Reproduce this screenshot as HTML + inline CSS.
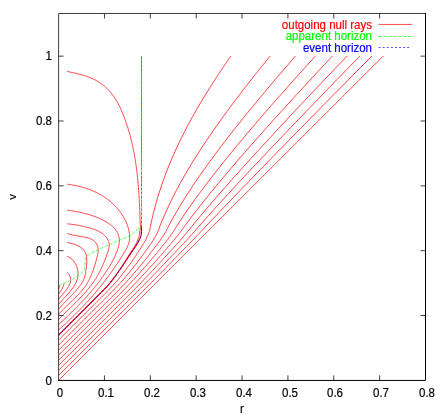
<!DOCTYPE html><html><head><meta charset="utf-8"><title>outgoing null rays</title><style>
html,body{margin:0;padding:0;background:#fff}
#c{position:relative;width:445px;height:415px;background:#fff;overflow:hidden;font-family:"Liberation Sans",sans-serif;font-size:11.5px;color:#000}
.t{position:absolute;white-space:nowrap;line-height:12px;height:12px;will-change:transform;-webkit-text-stroke:0.18px currentColor}
.xl{width:40px;text-align:center;transform:scaleY(1.06)}
.yl{width:40px;text-align:right;transform:scaleY(1.06)}
.lg{width:120px;text-align:right;transform:scaleY(1.07);transform-origin:100% 80%}
</style></head><body><div id="c">
<svg width="445" height="415" viewBox="0 0 445 415" style="position:absolute;left:0;top:0">
<g fill="none" stroke="#ff0000" stroke-width="0.72">
<path d="M383.30 56.00C382.30 57.00 381.30 58.00 380.30 59.00C379.29 60.00 378.29 61.00 377.29 62.00C376.29 63.00 375.29 64.00 374.29 65.00C373.29 66.00 372.28 67.00 371.28 68.00C370.28 69.00 369.28 70.00 368.28 71.00C367.28 72.00 366.28 73.00 365.28 74.00C364.27 75.00 363.27 76.00 362.27 77.00C361.27 78.00 360.27 79.00 359.27 80.00C358.27 81.00 357.26 82.00 356.26 83.00C355.26 84.00 354.26 85.00 353.26 86.00C352.26 87.00 351.26 88.00 350.25 89.00C349.25 90.00 348.25 91.00 347.25 92.00C346.25 93.00 345.25 94.00 344.25 95.00C343.25 96.00 342.24 97.00 341.24 98.00C340.24 99.00 339.24 100.00 338.24 101.00C337.24 102.00 336.24 103.00 335.23 104.00C334.23 105.00 333.23 106.00 332.23 107.00C331.23 108.00 330.23 109.00 329.23 110.00C328.23 111.00 327.22 112.00 326.22 113.00C325.22 114.00 324.22 115.00 323.22 116.00C322.22 117.00 321.22 118.00 320.22 119.00C319.21 120.00 318.21 121.00 317.21 122.00C316.21 123.00 315.21 124.00 314.21 125.00C313.21 126.00 312.20 127.00 311.20 128.00C310.20 129.00 309.20 130.00 308.20 131.00C307.20 132.00 306.20 133.00 305.20 134.00C304.19 135.00 303.19 136.00 302.19 137.00C301.19 138.00 300.19 139.00 299.19 140.00C298.19 141.00 297.19 142.00 296.18 143.00C295.18 144.00 294.18 145.00 293.18 146.00C292.18 147.00 291.18 148.00 290.18 149.00C289.18 150.00 288.17 151.00 287.17 152.00C286.17 153.00 285.17 154.00 284.17 155.00C283.17 156.00 282.17 157.00 281.17 158.00C280.17 159.00 279.16 160.00 278.16 161.00C277.16 162.00 276.16 163.00 275.16 164.00C274.16 165.00 273.16 166.00 272.16 167.00C271.15 168.00 270.15 169.00 269.15 170.00C268.15 171.00 267.15 172.00 266.15 173.00C265.15 174.00 264.15 175.00 263.15 176.00C262.14 177.00 261.14 178.00 260.14 179.00C259.14 180.00 258.14 181.00 257.14 182.00C256.14 183.00 255.14 184.00 254.14 185.00C253.13 186.00 252.13 187.00 251.13 188.00C250.13 189.00 249.13 190.00 248.13 191.00C247.13 192.00 246.13 193.00 245.13 194.00C244.12 195.00 243.12 196.00 242.12 197.00C241.12 198.00 240.12 199.00 239.12 200.00C238.12 201.00 237.12 202.00 236.12 203.00C235.11 204.00 234.11 205.00 233.11 206.00C232.11 207.00 231.11 208.00 230.11 209.00C229.11 210.00 228.11 211.00 227.11 212.00C226.11 213.00 225.11 214.00 224.10 215.00C223.10 216.00 222.10 217.00 221.10 218.00C220.10 219.00 219.10 220.00 218.10 221.00C217.10 222.00 216.05 223.05 215.10 224.00C214.22 224.87 213.38 225.71 212.59 226.50C211.89 227.20 211.32 227.77 210.58 228.50C209.68 229.40 208.57 230.50 207.57 231.50C206.56 232.50 205.56 233.50 204.56 234.50C203.55 235.50 202.55 236.50 201.54 237.50C200.54 238.50 199.54 239.50 198.53 240.50C197.53 241.50 196.53 242.50 195.53 243.50C194.52 244.50 193.52 245.50 192.52 246.50C191.52 247.50 190.51 248.50 189.51 249.50C188.51 250.50 187.51 251.50 186.50 252.50C185.50 253.50 184.50 254.50 183.50 255.50C182.50 256.50 181.49 257.50 180.49 258.50C179.49 259.50 178.49 260.50 177.49 261.50C176.48 262.50 175.48 263.50 174.48 264.50C173.48 265.50 172.48 266.50 171.47 267.50C170.47 268.50 169.47 269.50 168.47 270.50C167.47 271.50 166.47 272.50 165.47 273.50C164.46 274.50 163.46 275.50 162.46 276.50C161.46 277.50 160.46 278.50 159.46 279.50C158.46 280.50 157.45 281.50 156.45 282.50C155.45 283.50 154.45 284.50 153.45 285.50C152.45 286.50 151.45 287.50 150.45 288.50C149.45 289.50 148.45 290.50 147.45 291.50C146.45 292.50 145.45 293.50 144.45 294.50C143.45 295.50 142.40 296.55 141.45 297.50C140.58 298.37 140.37 298.58 138.95 300.00C130.92 308.03 85.38 353.57 58.60 380.35"/>
<path d="M371.90 56.00C370.91 57.00 369.92 58.00 368.93 59.00C367.95 60.00 366.96 61.00 365.97 62.00C364.98 63.00 363.99 64.00 363.00 65.00C362.02 66.00 361.03 67.00 360.04 68.00C359.05 69.00 358.06 70.00 357.08 71.00C356.09 72.00 355.10 73.00 354.11 74.00C353.13 75.00 352.14 76.00 351.15 77.00C350.16 78.00 349.18 79.00 348.19 80.00C347.20 81.00 346.22 82.00 345.23 83.00C344.24 84.00 343.26 85.00 342.27 86.00C341.29 87.00 340.30 88.00 339.31 89.00C338.33 90.00 337.34 91.00 336.36 92.00C335.37 93.00 334.39 94.00 333.40 95.00C332.42 96.00 331.43 97.00 330.45 98.00C329.46 99.00 328.48 100.00 327.49 101.00C326.51 102.00 325.52 103.00 324.54 104.00C323.56 105.00 322.57 106.00 321.59 107.00C320.60 108.00 319.62 109.00 318.64 110.00C317.65 111.00 316.67 112.00 315.69 113.00C314.70 114.00 313.72 115.00 312.74 116.00C311.76 117.00 310.78 118.00 309.79 119.00C308.81 120.00 307.83 121.00 306.85 122.00C305.87 123.00 304.88 124.00 303.90 125.00C302.92 126.00 301.94 127.00 300.96 128.00C299.98 129.00 299.00 130.00 298.02 131.00C297.04 132.00 296.06 133.00 295.08 134.00C294.10 135.00 293.12 136.00 292.14 137.00C291.16 138.00 290.18 139.00 289.21 140.00C288.23 141.00 287.25 142.00 286.27 143.00C285.29 144.00 284.32 145.00 283.34 146.00C282.36 147.00 281.38 148.00 280.41 149.00C279.43 150.00 278.46 151.00 277.48 152.00C276.50 153.00 275.53 154.00 274.55 155.00C273.58 156.00 272.60 157.00 271.63 158.00C270.65 159.00 269.68 160.00 268.70 161.00C267.73 162.00 266.76 163.00 265.78 164.00C264.81 165.00 263.84 166.00 262.87 167.00C261.89 168.00 260.92 169.00 259.95 170.00C258.98 171.00 258.01 172.00 257.04 173.00C256.07 174.00 255.10 175.00 254.13 176.00C253.16 177.00 252.19 178.00 251.22 179.00C250.25 180.00 249.28 181.00 248.31 182.00C247.35 183.00 246.38 184.00 245.41 185.00C244.45 186.00 243.48 187.00 242.51 188.00C241.55 189.00 240.58 190.00 239.62 191.00C238.66 192.00 237.69 193.00 236.73 194.00C235.76 195.00 234.80 196.00 233.84 197.00C232.88 198.00 231.92 199.00 230.96 200.00C229.99 201.00 229.03 202.00 228.08 203.00C227.12 204.00 226.16 205.00 225.20 206.00C224.24 207.00 223.28 208.00 222.33 209.00C221.37 210.00 220.42 211.00 219.46 212.00C218.51 213.00 217.55 214.00 216.60 215.00C215.65 216.00 214.69 217.00 213.74 218.00C212.79 219.00 211.84 220.00 210.89 221.00C209.94 222.00 208.95 223.05 208.04 224.00C207.22 224.87 206.42 225.71 205.68 226.50C205.02 227.20 204.50 227.77 203.82 228.50C202.97 229.40 201.94 230.50 200.99 231.50C200.05 232.50 199.09 233.50 198.14 234.50C197.19 235.50 196.23 236.50 195.27 237.50C194.32 238.50 193.36 239.50 192.40 240.50C191.44 241.50 190.46 242.50 189.49 243.50C188.52 244.50 187.55 245.50 186.58 246.50C185.61 247.50 184.64 248.50 183.67 249.50C182.70 250.50 181.73 251.50 180.76 252.50C179.79 253.50 178.82 254.50 177.84 255.50C176.87 256.50 175.89 257.50 174.92 258.50C173.94 259.50 172.97 260.50 171.99 261.50C171.01 262.50 170.04 263.50 169.06 264.50C168.08 265.50 167.10 266.50 166.12 267.50C165.14 268.50 164.16 269.50 163.18 270.50C162.20 271.50 161.22 272.50 160.23 273.50C159.25 274.50 158.27 275.50 157.29 276.50C156.30 277.50 155.32 278.50 154.34 279.50C153.35 280.50 152.36 281.50 151.37 282.50C150.38 283.50 149.39 284.50 148.39 285.50C147.40 286.50 146.40 287.50 145.40 288.50C144.41 289.50 143.41 290.50 142.42 291.50C141.42 292.50 140.42 293.50 139.42 294.50C138.42 295.50 137.37 296.55 136.42 297.50C135.55 298.37 135.33 298.59 133.92 300.00C126.18 307.74 83.71 350.21 58.60 375.32"/>
<path d="M359.90 56.00C358.93 57.00 357.95 58.00 356.98 59.00C356.00 60.00 355.03 61.00 354.05 62.00C353.08 63.00 352.11 64.00 351.13 65.00C350.16 66.00 349.19 67.00 348.22 68.00C347.24 69.00 346.27 70.00 345.30 71.00C344.33 72.00 343.36 73.00 342.38 74.00C341.41 75.00 340.44 76.00 339.47 77.00C338.50 78.00 337.53 79.00 336.56 80.00C335.59 81.00 334.62 82.00 333.65 83.00C332.68 84.00 331.71 85.00 330.74 86.00C329.77 87.00 328.80 88.00 327.84 89.00C326.87 90.00 325.90 91.00 324.93 92.00C323.96 93.00 323.00 94.00 322.03 95.00C321.06 96.00 320.10 97.00 319.13 98.00C318.17 99.00 317.20 100.00 316.23 101.00C315.27 102.00 314.30 103.00 313.34 104.00C312.37 105.00 311.41 106.00 310.45 107.00C309.48 108.00 308.52 109.00 307.56 110.00C306.59 111.00 305.63 112.00 304.67 113.00C303.71 114.00 302.75 115.00 301.79 116.00C300.82 117.00 299.86 118.00 298.90 119.00C297.94 120.00 296.98 121.00 296.03 122.00C295.07 123.00 294.11 124.00 293.15 125.00C292.19 126.00 291.23 127.00 290.28 128.00C289.32 129.00 288.36 130.00 287.41 131.00C286.45 132.00 285.50 133.00 284.54 134.00C283.59 135.00 282.63 136.00 281.68 137.00C280.72 138.00 279.77 139.00 278.82 140.00C277.87 141.00 276.91 142.00 275.96 143.00C275.01 144.00 274.06 145.00 273.11 146.00C272.16 147.00 271.21 148.00 270.26 149.00C269.31 150.00 268.37 151.00 267.42 152.00C266.47 153.00 265.52 154.00 264.58 155.00C263.63 156.00 262.69 157.00 261.74 158.00C260.80 159.00 259.85 160.00 258.91 161.00C257.97 162.00 257.03 163.00 256.09 164.00C255.14 165.00 254.20 166.00 253.26 167.00C252.33 168.00 251.39 169.00 250.45 170.00C249.51 171.00 248.57 172.00 247.64 173.00C246.70 174.00 245.77 175.00 244.83 176.00C243.90 177.00 242.97 178.00 242.03 179.00C241.10 180.00 240.17 181.00 239.24 182.00C238.31 183.00 237.38 184.00 236.45 185.00C235.53 186.00 234.60 187.00 233.67 188.00C232.75 189.00 231.82 190.00 230.90 191.00C229.98 192.00 229.06 193.00 228.13 194.00C227.21 195.00 226.29 196.00 225.38 197.00C224.46 198.00 223.54 199.00 222.62 200.00C221.71 201.00 220.80 202.00 219.88 203.00C218.97 204.00 218.06 205.00 217.15 206.00C216.24 207.00 215.33 208.00 214.42 209.00C213.52 210.00 212.61 211.00 211.71 212.00C210.81 213.00 209.90 214.00 209.00 215.00C208.10 216.00 207.21 217.00 206.31 218.00C205.41 219.00 204.52 220.00 203.62 221.00C202.73 222.00 201.80 223.05 200.95 224.00C200.18 224.87 199.42 225.71 198.73 226.50C198.12 227.20 197.66 227.77 197.03 228.50C196.25 229.40 195.28 230.50 194.40 231.50C193.51 232.50 192.61 233.50 191.70 234.50C190.80 235.50 189.89 236.50 188.98 237.50C188.08 238.50 187.18 239.50 186.26 240.50C185.33 241.50 184.39 242.50 183.45 243.50C182.51 244.50 181.57 245.50 180.63 246.50C179.69 247.50 178.76 248.50 177.82 249.50C176.88 250.50 175.95 251.50 175.01 252.50C174.07 253.50 173.13 254.50 172.18 255.50C171.24 256.50 170.29 257.50 169.34 258.50C168.39 259.50 167.44 260.50 166.49 261.50C165.54 262.50 164.59 263.50 163.64 264.50C162.68 265.50 161.72 266.50 160.76 267.50C159.80 268.50 158.84 269.50 157.88 270.50C156.92 271.50 155.96 272.50 155.00 273.50C154.04 274.50 153.07 275.50 152.11 276.50C151.15 277.50 150.19 278.50 149.22 279.50C148.25 280.50 147.26 281.50 146.28 282.50C145.30 283.50 144.32 284.50 143.33 285.50C142.34 286.50 141.35 287.50 140.36 288.50C139.36 289.50 138.37 290.50 137.38 291.50C136.38 292.50 135.38 293.50 134.38 294.50C133.38 295.50 132.34 296.55 131.38 297.50C130.51 298.37 130.29 298.60 128.88 300.00C121.45 307.43 82.03 346.86 58.60 370.28"/>
<path d="M347.10 56.00C346.14 57.00 345.18 58.00 344.23 59.00C343.27 60.00 342.31 61.00 341.36 62.00C340.40 63.00 339.44 64.00 338.49 65.00C337.53 66.00 336.58 67.00 335.62 68.00C334.67 69.00 333.71 70.00 332.76 71.00C331.80 72.00 330.85 73.00 329.90 74.00C328.94 75.00 327.99 76.00 327.04 77.00C326.09 78.00 325.14 79.00 324.18 80.00C323.23 81.00 322.28 82.00 321.33 83.00C320.38 84.00 319.43 85.00 318.49 86.00C317.54 87.00 316.59 88.00 315.64 89.00C314.69 90.00 313.75 91.00 312.80 92.00C311.85 93.00 310.91 94.00 309.96 95.00C309.01 96.00 308.07 97.00 307.13 98.00C306.18 99.00 305.24 100.00 304.29 101.00C303.35 102.00 302.41 103.00 301.47 104.00C300.53 105.00 299.58 106.00 298.64 107.00C297.70 108.00 296.76 109.00 295.82 110.00C294.89 111.00 293.95 112.00 293.01 113.00C292.07 114.00 291.14 115.00 290.20 116.00C289.26 117.00 288.33 118.00 287.39 119.00C286.46 120.00 285.52 121.00 284.59 122.00C283.66 123.00 282.73 124.00 281.79 125.00C280.86 126.00 279.93 127.00 279.00 128.00C278.07 129.00 277.14 130.00 276.22 131.00C275.29 132.00 274.36 133.00 273.43 134.00C272.51 135.00 271.58 136.00 270.66 137.00C269.73 138.00 268.81 139.00 267.89 140.00C266.96 141.00 266.04 142.00 265.12 143.00C264.20 144.00 263.28 145.00 262.36 146.00C261.45 147.00 260.53 148.00 259.61 149.00C258.70 150.00 257.78 151.00 256.87 152.00C255.95 153.00 255.04 154.00 254.13 155.00C253.22 156.00 252.30 157.00 251.40 158.00C250.49 159.00 249.58 160.00 248.67 161.00C247.76 162.00 246.86 163.00 245.95 164.00C245.05 165.00 244.15 166.00 243.24 167.00C242.34 168.00 241.44 169.00 240.54 170.00C239.64 171.00 238.75 172.00 237.85 173.00C236.96 174.00 236.06 175.00 235.17 176.00C234.27 177.00 233.38 178.00 232.49 179.00C231.60 180.00 230.71 181.00 229.83 182.00C228.94 183.00 228.06 184.00 227.17 185.00C226.29 186.00 225.41 187.00 224.53 188.00C223.65 189.00 222.77 190.00 221.89 191.00C221.02 192.00 220.15 193.00 219.27 194.00C218.40 195.00 217.53 196.00 216.66 197.00C215.79 198.00 214.93 199.00 214.06 200.00C213.20 201.00 212.34 202.00 211.48 203.00C210.62 204.00 209.76 205.00 208.91 206.00C208.05 207.00 207.20 208.00 206.35 209.00C205.50 210.00 204.65 211.00 203.80 212.00C202.96 213.00 202.12 214.00 201.28 215.00C200.44 216.00 199.60 217.00 198.76 218.00C197.93 219.00 197.10 220.00 196.27 221.00C195.44 222.00 194.57 223.04 193.79 224.00C193.07 224.87 192.37 225.71 191.74 226.50C191.18 227.20 190.76 227.77 190.19 228.50C189.47 229.40 188.58 230.50 187.76 231.50C186.93 232.50 186.08 233.50 185.23 234.50C184.38 235.50 183.52 236.50 182.66 237.50C181.80 238.50 180.96 239.51 180.08 240.50C179.20 241.51 178.28 242.50 177.38 243.50C176.47 244.50 175.56 245.50 174.65 246.50C173.74 247.50 172.85 248.50 171.94 249.50C171.04 250.50 170.14 251.50 169.24 252.50C168.33 253.50 167.42 254.50 166.50 255.50C165.59 256.50 164.66 257.50 163.74 258.50C162.82 259.50 161.90 260.50 160.98 261.50C160.05 262.50 159.13 263.50 158.20 264.50C157.27 265.50 156.33 266.50 155.39 267.50C154.46 268.50 153.52 269.50 152.58 270.50C151.64 271.50 150.70 272.50 149.76 273.50C148.82 274.50 147.87 275.50 146.93 276.50C145.99 277.50 145.05 278.50 144.10 279.50C143.14 280.50 142.17 281.50 141.20 282.50C140.22 283.50 139.25 284.50 138.27 285.50C137.29 286.50 136.30 287.50 135.31 288.50C134.32 289.50 133.34 290.50 132.34 291.50C131.35 292.50 130.35 293.50 129.35 294.50C128.35 295.50 127.31 296.55 126.35 297.50C125.48 298.37 125.24 298.61 123.85 300.00C116.73 307.12 80.35 343.50 58.60 365.25"/>
<path d="M332.50 56.00C331.56 57.00 330.63 58.00 329.69 59.00C328.75 60.00 327.82 61.00 326.88 62.00C325.95 63.00 325.01 64.00 324.08 65.00C323.14 66.00 322.21 67.00 321.28 68.00C320.35 69.00 319.41 70.00 318.48 71.00C317.55 72.00 316.62 73.00 315.69 74.00C314.76 75.00 313.83 76.00 312.90 77.00C311.97 78.00 311.05 79.00 310.12 80.00C309.19 81.00 308.27 82.00 307.34 83.00C306.42 84.00 305.49 85.00 304.57 86.00C303.64 87.00 302.72 88.00 301.80 89.00C300.88 90.00 299.96 91.00 299.04 92.00C298.12 93.00 297.20 94.00 296.28 95.00C295.36 96.00 294.44 97.00 293.52 98.00C292.61 99.00 291.69 100.00 290.78 101.00C289.86 102.00 288.95 103.00 288.03 104.00C287.12 105.00 286.21 106.00 285.30 107.00C284.39 108.00 283.48 109.00 282.57 110.00C281.66 111.00 280.75 112.00 279.84 113.00C278.93 114.00 278.03 115.00 277.12 116.00C276.22 117.00 275.31 118.00 274.41 119.00C273.51 120.00 272.61 121.00 271.71 122.00C270.81 123.00 269.91 124.00 269.01 125.00C268.11 126.00 267.21 127.00 266.32 128.00C265.42 129.00 264.53 130.00 263.64 131.00C262.74 132.00 261.85 133.00 260.96 134.00C260.07 135.00 259.18 136.00 258.29 137.00C257.41 138.00 256.52 139.00 255.63 140.00C254.75 141.00 253.87 142.00 252.98 143.00C252.10 144.00 251.22 145.00 250.34 146.00C249.46 147.00 248.59 148.00 247.71 149.00C246.83 150.00 245.96 151.00 245.09 152.00C244.22 153.00 243.34 154.00 242.47 155.00C241.61 156.00 240.74 157.00 239.87 158.00C239.01 159.00 238.14 160.00 237.28 161.00C236.42 162.00 235.56 163.00 234.70 164.00C233.84 165.00 232.98 166.00 232.13 167.00C231.27 168.00 230.42 169.00 229.57 170.00C228.72 171.00 227.87 172.00 227.03 173.00C226.18 174.00 225.33 175.00 224.49 176.00C223.65 177.00 222.81 178.00 221.97 179.00C221.14 180.00 220.30 181.00 219.47 182.00C218.63 183.00 217.80 184.00 216.97 185.00C216.15 186.00 215.32 187.00 214.50 188.00C213.67 189.00 212.85 190.00 212.04 191.00C211.22 192.00 210.40 193.00 209.59 194.00C208.78 195.00 207.97 196.00 207.16 197.00C206.35 198.00 205.55 199.00 204.75 200.00C203.95 201.00 203.15 202.00 202.35 203.00C201.56 204.00 200.77 205.00 199.98 206.00C199.19 207.00 198.40 208.00 197.62 209.00C196.84 210.00 196.06 211.00 195.29 212.00C194.51 213.00 193.74 214.00 192.97 215.00C192.20 216.00 191.44 217.00 190.68 218.00C189.92 219.00 189.16 220.00 188.41 221.00C187.65 222.00 186.87 223.04 186.16 224.00C185.51 224.87 184.87 225.71 184.30 226.50C183.81 227.20 183.46 227.77 182.95 228.50C182.31 229.40 181.51 230.51 180.76 231.50C180.01 232.51 179.22 233.50 178.44 234.50C177.65 235.50 176.85 236.50 176.05 237.50C175.25 238.50 174.47 239.51 173.65 240.50C172.81 241.51 171.93 242.50 171.07 243.50C170.20 244.50 169.33 245.50 168.46 246.50C167.60 247.50 166.74 248.50 165.88 249.50C165.02 250.50 164.17 251.50 163.30 252.50C162.43 253.50 161.56 254.50 160.68 255.50C159.80 256.50 158.91 257.50 158.02 258.50C157.13 259.50 156.24 260.50 155.35 261.50C154.46 262.50 153.58 263.50 152.68 264.50C151.78 265.50 150.86 266.50 149.95 267.50C149.04 268.50 148.13 269.50 147.22 270.50C146.31 271.50 145.39 272.50 144.48 273.50C143.56 274.50 142.64 275.50 141.72 276.50C140.80 277.50 139.89 278.50 138.96 279.50C138.02 280.50 137.05 281.50 136.10 282.50C135.14 283.50 134.18 284.50 133.21 285.50C132.23 286.50 131.24 287.50 130.26 288.50C129.28 289.50 128.30 290.50 127.31 291.50C126.32 292.50 125.32 293.50 124.32 294.50C123.32 295.50 122.27 296.55 121.32 297.50C120.45 298.37 120.20 298.62 118.82 300.00C112.02 306.80 78.67 340.15 58.60 360.22"/>
<path d="M315.50 56.00C314.59 57.00 313.68 58.00 312.77 59.00C311.86 60.00 310.95 61.00 310.05 62.00C309.14 63.00 308.23 64.00 307.33 65.00C306.42 66.00 305.52 67.00 304.61 68.00C303.71 69.00 302.81 70.00 301.91 71.00C301.00 72.00 300.10 73.00 299.20 74.00C298.31 75.00 297.41 76.00 296.51 77.00C295.61 78.00 294.72 79.00 293.82 80.00C292.93 81.00 292.03 82.00 291.14 83.00C290.24 84.00 289.35 85.00 288.46 86.00C287.57 87.00 286.68 88.00 285.79 89.00C284.90 90.00 284.02 91.00 283.13 92.00C282.24 93.00 281.36 94.00 280.48 95.00C279.59 96.00 278.71 97.00 277.83 98.00C276.95 99.00 276.07 100.00 275.19 101.00C274.31 102.00 273.43 103.00 272.56 104.00C271.68 105.00 270.81 106.00 269.93 107.00C269.06 108.00 268.19 109.00 267.32 110.00C266.45 111.00 265.58 112.00 264.71 113.00C263.85 114.00 262.98 115.00 262.12 116.00C261.25 117.00 260.39 118.00 259.53 119.00C258.67 120.00 257.81 121.00 256.95 122.00C256.09 123.00 255.24 124.00 254.38 125.00C253.53 126.00 252.68 127.00 251.82 128.00C250.97 129.00 250.12 130.00 249.28 131.00C248.43 132.00 247.58 133.00 246.74 134.00C245.90 135.00 245.05 136.00 244.21 137.00C243.37 138.00 242.54 139.00 241.70 140.00C240.86 141.00 240.03 142.00 239.20 143.00C238.37 144.00 237.54 145.00 236.71 146.00C235.88 147.00 235.06 148.00 234.23 149.00C233.41 150.00 232.59 151.00 231.77 152.00C230.95 153.00 230.13 154.00 229.32 155.00C228.51 156.00 227.69 157.00 226.88 158.00C226.07 159.00 225.27 160.00 224.46 161.00C223.66 162.00 222.86 163.00 222.06 164.00C221.26 165.00 220.46 166.00 219.67 167.00C218.87 168.00 218.08 169.00 217.29 170.00C216.50 171.00 215.72 172.00 214.93 173.00C214.15 174.00 213.37 175.00 212.59 176.00C211.82 177.00 211.04 178.00 210.27 179.00C209.50 180.00 208.73 181.00 207.97 182.00C207.20 183.00 206.44 184.00 205.68 185.00C204.92 186.00 204.17 187.00 203.42 188.00C202.67 189.00 201.92 190.00 201.17 191.00C200.43 192.00 199.69 193.00 198.95 194.00C198.21 195.00 197.48 196.00 196.75 197.00C196.02 198.00 195.29 199.00 194.57 200.00C193.85 201.00 193.13 202.00 192.41 203.00C191.70 204.00 190.99 205.00 190.28 206.00C189.58 207.00 188.87 208.00 188.17 209.00C187.48 210.00 186.78 211.00 186.09 212.00C185.41 213.00 184.72 214.00 184.04 215.00C183.36 216.00 182.68 217.00 182.01 218.00C181.34 219.00 180.68 220.00 180.02 221.00C179.36 222.00 178.67 223.04 178.05 224.00C177.48 224.87 176.91 225.71 176.43 226.50C176.01 227.20 175.73 227.77 175.30 228.50C174.76 229.40 174.06 230.51 173.41 231.50C172.74 232.51 172.02 233.50 171.32 234.50C170.61 235.50 169.87 236.50 169.15 237.50C168.42 238.50 167.72 239.51 166.96 240.50C166.19 241.51 165.35 242.50 164.53 243.50C163.71 244.50 162.88 245.50 162.06 246.50C161.25 247.50 160.44 248.50 159.63 249.50C158.82 250.50 158.02 251.50 157.20 252.50C156.38 253.50 155.55 254.50 154.71 255.50C153.87 256.50 153.02 257.50 152.17 258.50C151.32 259.50 150.48 260.50 149.63 261.50C148.77 262.50 147.93 263.50 147.07 264.50C146.20 265.50 145.31 266.50 144.43 267.50C143.55 268.50 142.68 269.50 141.80 270.50C140.92 271.50 140.03 272.50 139.15 273.50C138.26 274.50 137.36 275.50 136.47 276.50C135.58 277.50 134.71 278.51 133.80 279.50C132.88 280.51 131.93 281.50 130.99 282.50C130.04 283.50 129.09 284.50 128.13 285.50C127.17 286.50 126.18 287.50 125.20 288.50C124.23 289.50 123.26 290.50 122.27 291.50C121.28 292.50 120.28 293.50 119.28 294.50C118.29 295.50 117.24 296.55 116.28 297.50C115.41 298.37 115.16 298.63 113.78 300.00C107.33 306.46 77.00 336.79 58.60 355.19"/>
<path d="M295.60 56.00C294.73 57.00 293.85 58.00 292.98 59.00C292.11 60.00 291.24 61.00 290.37 62.00C289.50 63.00 288.63 64.00 287.76 65.00C286.90 66.00 286.03 67.00 285.17 68.00C284.30 69.00 283.44 70.00 282.58 71.00C281.72 72.00 280.86 73.00 280.00 74.00C279.14 75.00 278.29 76.00 277.43 77.00C276.57 78.00 275.72 79.00 274.87 80.00C274.02 81.00 273.16 82.00 272.31 83.00C271.46 84.00 270.62 85.00 269.77 86.00C268.92 87.00 268.08 88.00 267.24 89.00C266.39 90.00 265.55 91.00 264.71 92.00C263.87 93.00 263.03 94.00 262.20 95.00C261.36 96.00 260.53 97.00 259.69 98.00C258.86 99.00 258.03 100.00 257.20 101.00C256.37 102.00 255.54 103.00 254.72 104.00C253.89 105.00 253.07 106.00 252.25 107.00C251.43 108.00 250.61 109.00 249.79 110.00C248.97 111.00 248.16 112.00 247.34 113.00C246.53 114.00 245.72 115.00 244.91 116.00C244.10 117.00 243.29 118.00 242.49 119.00C241.68 120.00 240.88 121.00 240.08 122.00C239.28 123.00 238.48 124.00 237.68 125.00C236.89 126.00 236.10 127.00 235.30 128.00C234.51 129.00 233.72 130.00 232.94 131.00C232.15 132.00 231.37 133.00 230.59 134.00C229.81 135.00 229.03 136.00 228.25 137.00C227.47 138.00 226.70 139.00 225.93 140.00C225.16 141.00 224.39 142.00 223.63 143.00C222.86 144.00 222.10 145.00 221.34 146.00C220.58 147.00 219.82 148.00 219.07 149.00C218.31 150.00 217.56 151.00 216.81 152.00C216.07 153.00 215.32 154.00 214.58 155.00C213.84 156.00 213.10 157.00 212.37 158.00C211.63 159.00 210.90 160.00 210.17 161.00C209.44 162.00 208.72 163.00 207.99 164.00C207.27 165.00 206.55 166.00 205.84 167.00C205.12 168.00 204.41 169.00 203.70 170.00C203.00 171.00 202.29 172.00 201.59 173.00C200.89 174.00 200.19 175.00 199.50 176.00C198.81 177.00 198.12 178.00 197.43 179.00C196.75 180.00 196.07 181.00 195.39 182.00C194.71 183.00 194.04 184.00 193.37 185.00C192.70 186.00 192.04 187.00 191.38 188.00C190.72 189.00 190.06 190.00 189.41 191.00C188.76 192.00 188.11 193.00 187.47 194.00C186.82 195.00 186.19 196.00 185.55 197.00C184.92 198.00 184.29 199.00 183.66 200.00C183.04 201.00 182.42 202.00 181.81 203.00C181.19 204.00 180.58 205.00 179.98 206.00C179.37 207.00 178.78 208.00 178.18 209.00C177.59 210.00 177.00 211.00 176.41 212.00C175.83 213.00 175.25 214.00 174.68 215.00C174.11 216.00 173.54 217.00 172.97 218.00C172.41 219.00 171.86 220.00 171.30 221.00C170.75 222.00 170.18 223.04 169.67 224.00C169.20 224.87 168.72 225.71 168.33 226.50C167.99 227.20 167.80 227.77 167.44 228.50C167.01 229.41 166.43 230.51 165.86 231.50C165.29 232.51 164.66 233.50 164.03 234.50C163.40 235.50 162.75 236.50 162.10 237.50C161.45 238.50 160.84 239.51 160.14 240.50C159.43 241.51 158.64 242.50 157.87 243.50C157.11 244.50 156.32 245.50 155.55 246.50C154.79 247.50 154.04 248.50 153.28 249.50C152.53 250.50 151.78 251.50 151.01 252.50C150.24 253.50 149.46 254.50 148.67 255.50C147.88 256.50 147.06 257.50 146.26 258.50C145.45 259.50 144.65 260.50 143.84 261.50C143.03 262.50 142.23 263.50 141.41 264.50C140.58 265.50 139.72 266.50 138.88 267.50C138.03 268.50 137.19 269.50 136.35 270.50C135.50 271.50 134.65 272.50 133.79 273.50C132.93 274.50 132.07 275.50 131.21 276.50C130.35 277.50 129.51 278.51 128.63 279.50C127.73 280.51 126.79 281.50 125.87 282.50C124.94 283.50 124.01 284.50 123.06 285.50C122.10 286.50 121.12 287.50 120.15 288.50C119.18 289.50 118.22 290.50 117.24 291.50C116.25 292.50 115.25 293.50 114.25 294.50C113.25 295.50 112.21 296.55 111.25 297.50C110.38 298.37 110.11 298.64 108.75 300.00C102.65 306.10 75.32 333.43 58.60 350.15"/>
<path d="M270.20 56.00C269.38 57.00 268.57 58.00 267.75 59.00C266.94 60.00 266.13 61.00 265.31 62.00C264.50 63.00 263.70 64.00 262.89 65.00C262.08 66.00 261.28 67.00 260.47 68.00C259.67 69.00 258.87 70.00 258.07 71.00C257.27 72.00 256.47 73.00 255.68 74.00C254.88 75.00 254.09 76.00 253.30 77.00C252.51 78.00 251.72 79.00 250.93 80.00C250.15 81.00 249.36 82.00 248.58 83.00C247.80 84.00 247.02 85.00 246.24 86.00C245.46 87.00 244.69 88.00 243.91 89.00C243.14 90.00 242.37 91.00 241.60 92.00C240.83 93.00 240.07 94.00 239.30 95.00C238.54 96.00 237.78 97.00 237.02 98.00C236.26 99.00 235.51 100.00 234.75 101.00C234.00 102.00 233.25 103.00 232.50 104.00C231.75 105.00 231.01 106.00 230.26 107.00C229.52 108.00 228.78 109.00 228.04 110.00C227.31 111.00 226.57 112.00 225.84 113.00C225.11 114.00 224.38 115.00 223.65 116.00C222.93 117.00 222.20 118.00 221.48 119.00C220.77 120.00 220.05 121.00 219.33 122.00C218.62 123.00 217.91 124.00 217.20 125.00C216.50 126.00 215.79 127.00 215.09 128.00C214.39 129.00 213.69 130.00 213.00 131.00C212.30 132.00 211.61 133.00 210.93 134.00C210.24 135.00 209.55 136.00 208.87 137.00C208.19 138.00 207.52 139.00 206.84 140.00C206.17 141.00 205.50 142.00 204.83 143.00C204.17 144.00 203.51 145.00 202.85 146.00C202.19 147.00 201.53 148.00 200.88 149.00C200.23 150.00 199.59 151.00 198.94 152.00C198.30 153.00 197.66 154.00 197.02 155.00C196.39 156.00 195.76 157.00 195.13 158.00C194.51 159.00 193.88 160.00 193.26 161.00C192.65 162.00 192.03 163.00 191.42 164.00C190.81 165.00 190.21 166.00 189.61 167.00C189.01 168.00 188.41 169.00 187.82 170.00C187.23 171.00 186.64 172.00 186.06 173.00C185.47 174.00 184.89 175.00 184.32 176.00C183.75 177.00 183.18 178.00 182.61 179.00C182.05 180.00 181.49 181.00 180.94 182.00C180.38 183.00 179.84 184.00 179.29 185.00C178.75 186.00 178.21 187.00 177.67 188.00C177.14 189.00 176.61 190.00 176.09 191.00C175.56 192.00 175.04 193.00 174.53 194.00C174.02 195.00 173.51 196.00 173.01 197.00C172.50 198.00 172.01 199.00 171.51 200.00C171.02 201.00 170.54 202.00 170.05 203.00C169.57 204.00 169.10 205.00 168.63 206.00C168.16 207.00 167.69 208.00 167.23 209.00C166.77 210.00 166.32 211.00 165.87 212.00C165.43 213.00 164.98 214.00 164.55 215.00C164.11 216.00 163.68 217.00 163.26 218.00C162.83 219.00 162.41 220.00 162.00 221.00C161.59 222.00 161.16 223.04 160.78 224.00C160.43 224.87 160.06 225.71 159.79 226.50C159.54 227.20 159.44 227.77 159.18 228.50C158.86 229.41 158.41 230.51 157.96 231.50C157.50 232.51 156.95 233.50 156.42 234.50C155.89 235.50 155.32 236.50 154.76 237.50C154.20 238.50 153.68 239.51 153.06 240.50C152.43 241.52 151.68 242.50 150.98 243.50C150.27 244.50 149.54 245.50 148.83 246.50C148.13 247.50 147.44 248.50 146.74 249.50C146.05 250.50 145.37 251.50 144.66 252.50C143.95 253.50 143.22 254.50 142.48 255.50C141.74 256.50 140.97 257.50 140.22 258.50C139.46 259.50 138.71 260.50 137.95 261.50C137.19 262.50 136.44 263.50 135.66 264.50C134.87 265.50 134.05 266.50 133.24 267.50C132.44 268.50 131.64 269.50 130.83 270.50C130.02 271.50 129.21 272.50 128.39 273.50C127.57 274.50 126.74 275.50 125.91 276.50C125.09 277.50 124.29 278.51 123.43 279.50C122.57 280.51 121.65 281.50 120.74 282.50C119.83 283.50 118.91 284.51 117.98 285.50C117.03 286.51 116.05 287.50 115.09 288.50C114.13 289.50 113.17 290.50 112.20 291.50C111.22 292.50 110.22 293.50 109.22 294.50C108.22 295.50 107.17 296.55 106.22 297.50C105.35 298.37 105.07 298.65 103.72 300.00C97.99 305.73 73.64 330.08 58.60 345.12"/>
<path d="M230.90 56.00C230.21 57.00 229.51 58.00 228.82 59.00C228.12 60.00 227.43 61.00 226.75 62.00C226.06 63.00 225.38 64.00 224.70 65.00C224.02 66.00 223.34 67.00 222.67 68.00C221.99 69.00 221.32 70.00 220.65 71.00C219.99 72.00 219.32 73.00 218.66 74.00C218.00 75.00 217.34 76.00 216.68 77.00C216.03 78.00 215.38 79.00 214.73 80.00C214.08 81.00 213.44 82.00 212.79 83.00C212.15 84.00 211.51 85.00 210.88 86.00C210.24 87.00 209.61 88.00 208.99 89.00C208.36 90.00 207.73 91.00 207.11 92.00C206.49 93.00 205.88 94.00 205.26 95.00C204.65 96.00 204.04 97.00 203.43 98.00C202.83 99.00 202.23 100.00 201.63 101.00C201.03 102.00 200.43 103.00 199.84 104.00C199.25 105.00 198.67 106.00 198.08 107.00C197.50 108.00 196.92 109.00 196.35 110.00C195.77 111.00 195.20 112.00 194.63 113.00C194.07 114.00 193.51 115.00 192.95 116.00C192.39 117.00 191.83 118.00 191.28 119.00C190.73 120.00 190.19 121.00 189.65 122.00C189.11 123.00 188.57 124.00 188.04 125.00C187.50 126.00 186.98 127.00 186.45 128.00C185.93 129.00 185.41 130.00 184.89 131.00C184.38 132.00 183.87 133.00 183.36 134.00C182.85 135.00 182.35 136.00 181.86 137.00C181.36 138.00 180.87 139.00 180.38 140.00C179.89 141.00 179.41 142.00 178.93 143.00C178.45 144.00 177.98 145.00 177.51 146.00C177.04 147.00 176.58 148.00 176.12 149.00C175.66 150.00 175.20 151.00 174.75 152.00C174.30 153.00 173.86 154.00 173.42 155.00C172.98 156.00 172.54 157.00 172.11 158.00C171.68 159.00 171.26 160.00 170.84 161.00C170.42 162.00 170.00 163.00 169.59 164.00C169.18 165.00 168.77 166.00 168.37 167.00C167.97 168.00 167.58 169.00 167.19 170.00C166.80 171.00 166.41 172.00 166.03 173.00C165.65 174.00 165.27 175.00 164.90 176.00C164.53 177.00 164.17 178.00 163.81 179.00C163.45 180.00 163.09 181.00 162.74 182.00C162.39 183.00 162.04 184.00 161.70 185.00C161.36 186.00 161.03 187.00 160.70 188.00C160.37 189.00 160.04 190.00 159.72 191.00C159.40 192.00 159.08 193.00 158.77 194.00C158.46 195.00 158.16 196.00 157.85 197.00C157.55 198.00 157.26 199.00 156.97 200.00C156.68 201.00 156.39 202.00 156.11 203.00C155.83 204.00 155.55 205.00 155.28 206.00C155.01 207.00 154.74 208.00 154.48 209.00C154.22 210.00 153.96 211.00 153.71 212.00C153.45 213.00 153.20 214.00 152.96 215.00C152.72 216.00 152.48 217.00 152.24 218.00C152.01 219.00 151.78 220.00 151.55 221.00C151.33 222.00 151.10 223.05 150.89 224.00C150.70 224.87 150.49 225.71 150.36 226.50C150.24 227.20 150.24 227.77 150.10 228.50C149.93 229.40 149.65 230.51 149.33 231.50C149.01 232.51 148.58 233.50 148.16 234.50C147.75 235.50 147.28 236.50 146.83 237.50C146.39 238.50 146.00 239.52 145.47 240.50C144.93 241.52 144.25 242.50 143.62 243.50C142.98 244.50 142.32 245.50 141.68 246.50C141.05 247.50 140.45 248.50 139.83 249.50C139.21 250.50 138.61 251.50 137.97 252.50C137.33 253.50 136.68 254.50 136.00 255.50C135.33 256.50 134.62 257.50 133.92 258.50C133.23 259.50 132.54 260.50 131.84 261.50C131.14 262.50 130.45 263.51 129.73 264.50C128.99 265.51 128.22 266.50 127.46 267.50C126.71 268.50 125.96 269.50 125.20 270.50C124.44 271.50 123.67 272.50 122.89 273.50C122.12 274.50 121.33 275.50 120.55 276.50C119.77 277.50 119.02 278.51 118.20 279.50C117.37 280.51 116.47 281.50 115.59 282.50C114.70 283.50 113.80 284.51 112.88 285.50C111.95 286.51 110.98 287.50 110.02 288.50C109.07 289.50 108.13 290.50 107.16 291.50C106.19 292.50 105.18 293.50 104.19 294.50C103.19 295.50 102.14 296.55 101.19 297.50C100.31 298.37 100.02 298.67 98.69 300.00C93.35 305.34 71.96 326.72 58.60 340.09"/>
<path d="M67.15 184.20C67.66 184.27 68.17 184.34 68.68 184.41C69.19 184.48 69.69 184.56 70.20 184.64C70.71 184.71 71.21 184.80 71.72 184.88C72.22 184.96 72.72 185.05 73.23 185.14C73.73 185.24 74.23 185.33 74.73 185.43C75.23 185.53 75.73 185.63 76.23 185.73C76.72 185.84 77.22 185.94 77.71 186.05C78.21 186.17 78.70 186.28 79.20 186.40C79.69 186.52 80.18 186.64 80.67 186.77C81.16 186.89 81.64 187.02 82.13 187.15C82.62 187.29 83.10 187.42 83.58 187.56C84.07 187.70 84.55 187.85 85.03 188.00C85.51 188.15 85.98 188.30 86.46 188.45C86.94 188.61 87.41 188.77 87.88 188.94C88.36 189.10 88.83 189.27 89.29 189.44C89.76 189.61 90.23 189.79 90.69 189.97C91.16 190.15 91.62 190.34 92.08 190.52C92.54 190.71 93.00 190.91 93.46 191.11C93.92 191.30 94.37 191.51 94.82 191.71C95.27 191.92 95.72 192.13 96.17 192.35C96.62 192.56 97.06 192.78 97.51 193.01C97.95 193.23 98.39 193.46 98.83 193.70C99.27 193.93 99.70 194.17 100.14 194.41C100.57 194.66 101.00 194.90 101.43 195.16C101.86 195.41 102.28 195.67 102.71 195.93C103.13 196.20 103.55 196.46 103.97 196.74C104.39 197.01 104.80 197.29 105.21 197.57C105.63 197.85 106.04 198.14 106.44 198.44C106.85 198.73 107.25 199.03 107.65 199.33C108.06 199.64 108.45 199.95 108.85 200.26C109.24 200.57 109.64 200.89 110.02 201.22C110.41 201.55 110.80 201.88 111.18 202.21C111.56 202.55 111.94 202.89 112.32 203.23C112.69 203.58 113.07 203.93 113.43 204.29C113.80 204.64 114.17 205.01 114.53 205.37C114.89 205.74 115.24 206.11 115.59 206.48C115.95 206.86 116.29 207.24 116.64 207.62C116.98 208.00 117.32 208.39 117.65 208.78C117.98 209.18 118.31 209.57 118.63 209.97C118.96 210.37 119.27 210.78 119.59 211.19C119.90 211.59 120.21 212.01 120.51 212.42C120.81 212.84 121.10 213.26 121.39 213.68C121.68 214.11 121.97 214.53 122.24 214.96C122.52 215.39 122.79 215.83 123.06 216.26C123.32 216.70 123.58 217.14 123.83 217.58C124.08 218.03 124.33 218.47 124.57 218.92C124.81 219.37 125.04 219.82 125.26 220.28C125.49 220.73 125.70 221.19 125.91 221.65C126.12 222.11 126.32 222.57 126.52 223.04C126.71 223.50 126.90 223.97 127.08 224.44C127.25 224.91 127.42 225.38 127.59 225.85C127.75 226.33 127.90 226.80 128.05 227.28C128.19 227.76 128.33 228.24 128.46 228.72C128.59 229.20 128.71 229.68 128.82 230.17C128.93 230.65 129.03 231.14 129.11 231.62C129.20 232.11 129.28 232.60 129.35 233.08C129.42 233.57 129.47 234.06 129.51 234.55C129.56 235.03 129.59 235.52 129.61 236.01C129.62 236.50 129.63 236.98 129.62 237.47C129.61 237.96 129.59 238.44 129.55 238.93C129.51 239.41 129.46 239.89 129.39 240.38C129.32 240.86 129.23 241.34 129.13 241.81C129.03 242.29 128.91 242.77 128.78 243.24C128.64 243.71 128.49 244.19 128.32 244.65C128.15 245.12 127.96 245.59 127.76 246.05C127.55 246.51 127.33 246.97 127.10 247.43C126.87 247.89 126.63 248.34 126.38 248.79C126.13 249.24 125.87 249.69 125.61 250.14C125.35 250.59 125.08 251.04 124.81 251.48C124.54 251.93 124.27 252.37 124.00 252.81C123.73 253.25 123.46 253.69 123.19 254.13C122.92 254.57 122.65 255.00 122.38 255.44C122.11 255.87 121.84 256.31 121.57 256.74C121.30 257.17 121.03 257.60 120.76 258.03C120.49 258.46 120.22 258.89 119.95 259.32C119.67 259.75 119.40 260.17 119.13 260.60C118.86 261.02 118.58 261.45 118.31 261.87C118.03 262.30 117.76 262.72 117.48 263.14C117.20 263.56 116.92 263.98 116.65 264.40C116.37 264.82 116.09 265.24 115.81 265.66C115.52 266.08 115.24 266.49 114.96 266.91C114.68 267.33 114.39 267.74 114.11 268.16C113.82 268.57 113.54 268.99 113.25 269.40C112.96 269.82 112.67 270.23 112.38 270.64C112.09 271.05 111.80 271.47 111.51 271.88C111.22 272.29 110.93 272.70 110.63 273.11C110.34 273.52 110.04 273.92 109.75 274.33C109.45 274.74 109.16 275.15 108.86 275.55C108.56 275.96 108.26 276.36 107.96 276.77C107.66 277.17 107.36 277.58 107.06 277.98C106.76 278.38 106.46 278.78 106.15 279.19C105.85 279.59 105.54 279.99 105.24 280.39C104.93 280.79 104.62 281.19 104.32 281.59C104.01 281.99 103.70 282.38 103.39 282.78C103.08 283.18 102.77 283.57 102.46 283.97C102.15 284.36 101.83 284.76 101.52 285.15C101.21 285.55 100.89 285.94 100.58 286.33C100.26 286.73 99.94 287.12 99.63 287.51C99.31 287.90 98.99 288.29 98.67 288.68C98.35 289.07 98.03 289.46 97.71 289.85C97.39 290.23 97.07 290.62 96.74 291.01C96.42 291.39 96.10 291.78 95.77 292.16C95.45 292.55 95.12 292.93 94.79 293.32C94.47 293.70 94.14 294.08 93.81 294.47C93.48 294.85 93.15 295.23 92.82 295.61C92.49 295.99 92.16 296.37 91.83 296.75C91.50 297.13 91.16 297.51 90.83 297.88C90.50 298.26 90.16 298.64 89.83 299.01C89.49 299.39 89.15 299.77 88.82 300.14C88.48 300.52 88.14 300.89 87.80 301.26C87.46 301.64 87.12 302.01 86.78 302.38C86.44 302.75 86.10 303.12 85.76 303.49C85.41 303.86 85.07 304.23 84.73 304.60C84.38 304.97 84.04 305.34 83.69 305.71C83.35 306.07 83.00 306.44 82.65 306.80C82.30 307.17 81.95 307.54 81.61 307.90C81.26 308.26 80.91 308.63 80.56 308.99C80.21 309.35 79.85 309.72 79.50 310.08C79.15 310.44 78.80 310.80 78.44 311.16C78.09 311.52 77.73 311.88 77.38 312.24C77.02 312.60 76.67 312.95 76.31 313.31C75.95 313.67 75.59 314.02 75.23 314.38C74.88 314.74 74.52 315.09 74.16 315.45C73.80 315.80 73.44 316.15 73.07 316.51C72.71 316.86 72.35 317.21 71.99 317.56C71.62 317.91 71.26 318.26 70.89 318.61C70.53 318.96 70.16 319.31 69.80 319.66C69.43 320.01 69.06 320.36 68.70 320.70C68.33 321.05 67.96 321.40 67.59 321.74C67.22 322.09 66.85 322.43 66.48 322.78C66.11 323.12 65.74 323.47 65.37 323.81C65.00 324.15 64.62 324.49 64.25 324.83C63.88 325.18 63.50 325.52 63.13 325.86C62.75 326.20 62.38 326.53 62.00 326.87C61.63 327.21 61.25 327.55 60.87 327.89C60.50 328.22 60.12 328.56 59.74 328.90C59.36 329.23 58.98 329.57 58.60 329.90"/>
<path d="M67.15 210.20C67.67 210.27 68.18 210.34 68.70 210.41C69.21 210.48 69.72 210.55 70.23 210.63C70.74 210.70 71.25 210.77 71.76 210.85C72.27 210.93 72.77 211.01 73.28 211.09C73.78 211.17 74.28 211.26 74.79 211.34C75.29 211.43 75.79 211.52 76.29 211.61C76.78 211.70 77.28 211.79 77.78 211.89C78.27 211.98 78.76 212.08 79.26 212.18C79.75 212.28 80.24 212.39 80.73 212.50C81.22 212.60 81.71 212.71 82.20 212.82C82.69 212.94 83.18 213.05 83.66 213.17C84.15 213.29 84.63 213.41 85.12 213.54C85.60 213.66 86.08 213.79 86.57 213.92C87.05 214.06 87.53 214.19 88.01 214.33C88.49 214.47 88.97 214.61 89.45 214.76C89.93 214.91 90.40 215.06 90.88 215.21C91.36 215.37 91.84 215.53 92.31 215.69C92.79 215.85 93.26 216.02 93.74 216.19C94.21 216.37 94.69 216.54 95.16 216.72C95.63 216.90 96.11 217.09 96.58 217.28C97.05 217.47 97.53 217.66 98.00 217.86C98.47 218.06 98.94 218.26 99.41 218.47C99.89 218.68 100.36 218.90 100.83 219.12C101.30 219.33 101.77 219.56 102.24 219.79C102.71 220.02 103.18 220.25 103.65 220.49C104.12 220.74 104.59 220.98 105.05 221.23C105.51 221.49 105.97 221.75 106.43 222.01C106.88 222.28 107.34 222.55 107.78 222.83C108.23 223.11 108.67 223.40 109.10 223.70C109.53 223.99 109.95 224.29 110.37 224.60C110.78 224.92 111.19 225.23 111.58 225.56C111.98 225.89 112.36 226.23 112.74 226.57C113.11 226.92 113.47 227.27 113.82 227.64C114.17 228.00 114.50 228.38 114.82 228.76C115.14 229.15 115.45 229.54 115.74 229.94C116.03 230.34 116.30 230.75 116.56 231.17C116.82 231.59 117.07 232.02 117.29 232.45C117.52 232.88 117.73 233.33 117.92 233.77C118.11 234.22 118.29 234.67 118.44 235.13C118.60 235.59 118.74 236.05 118.86 236.52C118.97 236.99 119.07 237.46 119.15 237.94C119.23 238.41 119.29 238.90 119.33 239.38C119.36 239.86 119.38 240.35 119.38 240.84C119.37 241.33 119.35 241.82 119.31 242.31C119.27 242.80 119.20 243.30 119.13 243.79C119.05 244.29 118.96 244.78 118.85 245.28C118.75 245.78 118.62 246.27 118.49 246.77C118.36 247.26 118.21 247.76 118.06 248.25C117.91 248.75 117.74 249.24 117.57 249.73C117.40 250.22 117.22 250.71 117.03 251.20C116.85 251.68 116.66 252.17 116.46 252.65C116.27 253.13 116.07 253.61 115.86 254.08C115.66 254.56 115.45 255.03 115.24 255.50C115.03 255.97 114.81 256.43 114.59 256.90C114.37 257.36 114.15 257.82 113.92 258.28C113.70 258.74 113.47 259.20 113.23 259.65C113.00 260.11 112.76 260.56 112.52 261.01C112.28 261.46 112.04 261.91 111.79 262.35C111.54 262.80 111.29 263.24 111.04 263.69C110.79 264.13 110.54 264.57 110.28 265.01C110.02 265.45 109.76 265.88 109.50 266.32C109.24 266.75 108.97 267.19 108.71 267.62C108.44 268.05 108.17 268.48 107.90 268.91C107.63 269.34 107.36 269.77 107.09 270.19C106.81 270.62 106.54 271.05 106.26 271.47C105.98 271.89 105.70 272.32 105.42 272.74C105.14 273.16 104.85 273.58 104.57 274.00C104.28 274.41 104.00 274.83 103.71 275.25C103.42 275.66 103.13 276.08 102.84 276.49C102.55 276.91 102.25 277.32 101.96 277.73C101.66 278.14 101.37 278.55 101.07 278.96C100.77 279.37 100.47 279.77 100.17 280.18C99.87 280.59 99.56 280.99 99.26 281.39C98.95 281.80 98.65 282.20 98.34 282.60C98.03 283.00 97.72 283.40 97.41 283.80C97.10 284.20 96.79 284.60 96.47 285.00C96.16 285.39 95.84 285.79 95.53 286.18C95.21 286.58 94.89 286.97 94.57 287.37C94.25 287.76 93.93 288.15 93.61 288.54C93.29 288.93 92.96 289.32 92.64 289.71C92.31 290.10 91.99 290.48 91.66 290.87C91.33 291.26 91.00 291.64 90.67 292.03C90.34 292.41 90.01 292.80 89.68 293.18C89.35 293.56 89.01 293.94 88.68 294.32C88.34 294.70 88.01 295.08 87.67 295.46C87.33 295.84 87.00 296.22 86.66 296.60C86.32 296.97 85.98 297.35 85.64 297.72C85.29 298.10 84.95 298.47 84.61 298.85C84.27 299.22 83.92 299.59 83.58 299.97C83.23 300.34 82.88 300.71 82.54 301.08C82.19 301.45 81.84 301.82 81.49 302.19C81.14 302.56 80.79 302.93 80.44 303.29C80.09 303.66 79.74 304.03 79.38 304.39C79.03 304.76 78.68 305.12 78.32 305.49C77.97 305.85 77.61 306.22 77.26 306.58C76.90 306.94 76.54 307.30 76.19 307.67C75.83 308.03 75.47 308.39 75.11 308.75C74.75 309.11 74.39 309.47 74.03 309.83C73.67 310.19 73.31 310.54 72.95 310.90C72.59 311.26 72.23 311.62 71.86 311.97C71.50 312.33 71.14 312.69 70.77 313.04C70.41 313.40 70.04 313.75 69.68 314.11C69.31 314.46 68.95 314.82 68.58 315.17C68.21 315.52 67.85 315.87 67.48 316.23C67.11 316.58 66.75 316.93 66.38 317.28C66.01 317.63 65.64 317.99 65.27 318.34C64.90 318.69 64.53 319.04 64.16 319.39C63.80 319.74 63.43 320.08 63.06 320.43C62.69 320.78 62.31 321.13 61.94 321.48C61.57 321.83 61.20 322.17 60.83 322.52C60.46 322.87 60.09 323.21 59.72 323.56C59.34 323.91 58.97 324.25 58.60 324.60"/>
<path d="M67.15 223.90C67.67 223.93 68.20 223.96 68.72 224.00C69.23 224.04 69.75 224.08 70.26 224.13C70.77 224.18 71.27 224.23 71.78 224.29C72.28 224.35 72.78 224.41 73.28 224.48C73.78 224.55 74.28 224.62 74.77 224.70C75.26 224.78 75.76 224.86 76.25 224.94C76.74 225.03 77.23 225.11 77.72 225.21C78.20 225.30 78.69 225.39 79.18 225.49C79.66 225.59 80.15 225.69 80.64 225.80C81.12 225.90 81.61 226.01 82.10 226.12C82.58 226.23 83.07 226.34 83.56 226.45C84.05 226.56 84.54 226.68 85.03 226.80C85.52 226.92 86.01 227.03 86.50 227.15C87.00 227.28 87.50 227.40 87.99 227.52C88.49 227.65 88.99 227.78 89.49 227.91C89.98 228.04 90.48 228.18 90.98 228.32C91.47 228.46 91.97 228.61 92.46 228.76C92.96 228.92 93.45 229.08 93.93 229.24C94.42 229.41 94.91 229.59 95.39 229.77C95.87 229.96 96.35 230.15 96.82 230.36C97.29 230.57 97.76 230.78 98.22 231.01C98.68 231.24 99.13 231.47 99.58 231.73C100.03 231.98 100.47 232.24 100.90 232.52C101.34 232.80 101.76 233.09 102.18 233.40C102.59 233.71 103.00 234.03 103.39 234.36C103.78 234.70 104.16 235.05 104.53 235.40C104.89 235.76 105.25 236.13 105.58 236.52C105.91 236.90 106.23 237.29 106.53 237.69C106.82 238.09 107.10 238.50 107.36 238.92C107.61 239.34 107.85 239.77 108.05 240.21C108.26 240.64 108.45 241.09 108.61 241.54C108.76 241.99 108.90 242.45 109.00 242.91C109.10 243.38 109.17 243.85 109.21 244.32C109.25 244.79 109.26 245.27 109.24 245.75C109.22 246.23 109.16 246.72 109.09 247.20C109.02 247.69 108.92 248.18 108.80 248.67C108.69 249.16 108.56 249.66 108.41 250.15C108.27 250.64 108.11 251.13 107.95 251.63C107.79 252.12 107.62 252.61 107.46 253.10C107.29 253.59 107.12 254.08 106.95 254.57C106.77 255.06 106.60 255.55 106.42 256.04C106.25 256.52 106.07 257.01 105.89 257.49C105.71 257.97 105.53 258.45 105.34 258.93C105.16 259.41 104.97 259.89 104.78 260.37C104.60 260.85 104.41 261.32 104.21 261.80C104.02 262.27 103.82 262.74 103.63 263.21C103.43 263.68 103.23 264.15 103.03 264.62C102.82 265.09 102.62 265.55 102.41 266.02C102.20 266.48 101.99 266.94 101.78 267.40C101.57 267.86 101.35 268.32 101.13 268.78C100.91 269.24 100.69 269.69 100.47 270.14C100.24 270.60 100.02 271.05 99.79 271.50C99.56 271.95 99.32 272.39 99.09 272.84C98.85 273.28 98.61 273.72 98.37 274.16C98.13 274.61 97.88 275.04 97.64 275.48C97.39 275.92 97.14 276.35 96.88 276.78C96.63 277.21 96.37 277.64 96.11 278.07C95.84 278.50 95.58 278.92 95.31 279.35C95.04 279.77 94.77 280.19 94.49 280.61C94.22 281.03 93.94 281.44 93.66 281.85C93.37 282.27 93.09 282.68 92.80 283.09C92.51 283.49 92.21 283.90 91.91 284.30C91.62 284.71 91.32 285.11 91.01 285.51C90.71 285.91 90.40 286.31 90.09 286.70C89.79 287.10 89.47 287.49 89.16 287.88C88.84 288.27 88.52 288.66 88.20 289.05C87.88 289.44 87.56 289.82 87.23 290.21C86.91 290.59 86.58 290.98 86.25 291.36C85.92 291.74 85.58 292.12 85.25 292.49C84.91 292.87 84.58 293.25 84.24 293.62C83.90 294.00 83.56 294.37 83.21 294.74C82.87 295.12 82.52 295.49 82.18 295.86C81.83 296.23 81.48 296.59 81.13 296.96C80.78 297.33 80.43 297.69 80.08 298.06C79.72 298.42 79.37 298.79 79.02 299.15C78.66 299.52 78.30 299.88 77.95 300.24C77.59 300.60 77.23 300.96 76.87 301.32C76.51 301.68 76.15 302.04 75.79 302.40C75.43 302.76 75.07 303.12 74.70 303.48C74.34 303.83 73.98 304.19 73.62 304.55C73.25 304.91 72.89 305.26 72.53 305.62C72.16 305.98 71.80 306.33 71.43 306.69C71.07 307.04 70.71 307.40 70.34 307.75C69.98 308.11 69.62 308.47 69.25 308.82C68.89 309.18 68.53 309.53 68.16 309.89C67.80 310.24 67.44 310.60 67.08 310.96C66.72 311.31 66.35 311.67 65.99 312.02C65.63 312.38 65.27 312.74 64.92 313.10C64.56 313.45 64.20 313.81 63.84 314.17C63.49 314.53 63.13 314.89 62.78 315.25C62.42 315.61 62.07 315.97 61.72 316.33C61.37 316.69 61.02 317.05 60.67 317.41C60.32 317.78 59.97 318.14 59.63 318.50C59.28 318.87 58.94 319.23 58.60 319.60"/>
<path d="M67.15 233.30C67.63 233.49 68.11 233.68 68.60 233.86C69.08 234.03 69.56 234.18 70.05 234.33C70.53 234.48 71.02 234.61 71.51 234.74C72.00 234.86 72.49 234.98 72.98 235.08C73.47 235.19 73.96 235.29 74.46 235.38C74.95 235.48 75.45 235.57 75.95 235.65C76.44 235.74 76.94 235.82 77.44 235.90C77.94 235.98 78.44 236.05 78.95 236.13C79.45 236.21 79.96 236.28 80.46 236.36C80.97 236.45 81.48 236.53 81.99 236.61C82.50 236.70 83.02 236.79 83.53 236.89C84.05 236.99 84.56 237.09 85.08 237.20C85.60 237.31 86.12 237.43 86.64 237.56C87.15 237.69 87.67 237.83 88.18 237.99C88.69 238.15 89.19 238.31 89.68 238.50C90.17 238.68 90.66 238.88 91.13 239.10C91.59 239.31 92.05 239.55 92.48 239.80C92.91 240.06 93.33 240.34 93.72 240.64C94.11 240.94 94.48 241.26 94.82 241.61C95.17 241.95 95.49 242.32 95.78 242.71C96.07 243.09 96.34 243.50 96.58 243.92C96.83 244.33 97.04 244.77 97.23 245.22C97.42 245.67 97.58 246.13 97.72 246.60C97.86 247.07 97.96 247.55 98.04 248.03C98.12 248.52 98.18 249.01 98.20 249.51C98.22 250.01 98.22 250.51 98.19 251.01C98.16 251.51 98.09 252.01 98.02 252.52C97.95 253.02 97.85 253.53 97.74 254.03C97.64 254.54 97.52 255.05 97.40 255.55C97.28 256.06 97.15 256.56 97.02 257.07C96.89 257.58 96.77 258.08 96.64 258.58C96.51 259.09 96.37 259.59 96.24 260.09C96.11 260.60 95.97 261.10 95.84 261.60C95.70 262.10 95.56 262.60 95.42 263.09C95.28 263.59 95.14 264.09 94.99 264.58C94.85 265.08 94.70 265.57 94.55 266.06C94.40 266.55 94.25 267.04 94.09 267.53C93.93 268.02 93.78 268.50 93.61 268.99C93.45 269.47 93.28 269.96 93.11 270.44C92.94 270.92 92.77 271.39 92.59 271.87C92.42 272.35 92.23 272.82 92.05 273.29C91.86 273.76 91.67 274.23 91.48 274.70C91.29 275.17 91.09 275.63 90.89 276.09C90.68 276.55 90.47 277.01 90.26 277.47C90.05 277.92 89.83 278.37 89.61 278.82C89.39 279.27 89.16 279.72 88.92 280.16C88.69 280.61 88.45 281.05 88.20 281.49C87.96 281.92 87.71 282.36 87.45 282.79C87.19 283.22 86.93 283.64 86.66 284.07C86.39 284.49 86.12 284.91 85.83 285.33C85.55 285.74 85.26 286.15 84.97 286.56C84.68 286.97 84.38 287.38 84.08 287.78C83.77 288.19 83.46 288.59 83.15 288.98C82.84 289.38 82.52 289.78 82.19 290.17C81.87 290.56 81.54 290.95 81.21 291.34C80.88 291.73 80.55 292.11 80.21 292.49C79.87 292.87 79.53 293.25 79.18 293.63C78.84 294.01 78.49 294.39 78.13 294.76C77.78 295.14 77.43 295.51 77.07 295.88C76.71 296.25 76.36 296.62 75.99 296.99C75.63 297.35 75.27 297.72 74.90 298.09C74.54 298.45 74.17 298.81 73.80 299.18C73.43 299.54 73.06 299.90 72.69 300.26C72.32 300.62 71.95 300.98 71.58 301.34C71.21 301.70 70.84 302.06 70.46 302.42C70.09 302.77 69.72 303.13 69.34 303.49C68.97 303.85 68.60 304.20 68.23 304.56C67.85 304.92 67.48 305.27 67.11 305.63C66.74 305.98 66.37 306.34 66.00 306.70C65.64 307.06 65.27 307.41 64.90 307.77C64.54 308.13 64.18 308.49 63.81 308.84C63.45 309.20 63.09 309.56 62.74 309.92C62.38 310.28 62.03 310.64 61.67 311.01C61.32 311.37 60.98 311.73 60.63 312.10C60.29 312.46 59.94 312.83 59.60 313.19C59.27 313.56 58.93 313.93 58.60 314.30"/>
<path d="M67.15 242.50C67.64 242.59 68.12 242.67 68.61 242.77C69.11 242.88 69.62 242.98 70.12 243.10C70.63 243.22 71.14 243.35 71.65 243.49C72.16 243.63 72.67 243.77 73.18 243.93C73.69 244.09 74.21 244.26 74.71 244.44C75.22 244.62 75.72 244.81 76.21 245.02C76.71 245.22 77.19 245.44 77.67 245.67C78.15 245.89 78.62 246.13 79.08 246.39C79.53 246.64 79.97 246.91 80.40 247.19C80.83 247.47 81.24 247.76 81.64 248.07C82.03 248.38 82.41 248.70 82.77 249.04C83.12 249.38 83.46 249.73 83.77 250.10C84.08 250.47 84.37 250.85 84.63 251.25C84.89 251.65 85.13 252.07 85.33 252.49C85.54 252.93 85.72 253.37 85.88 253.83C86.04 254.29 86.18 254.77 86.29 255.25C86.41 255.73 86.50 256.23 86.57 256.73C86.65 257.23 86.70 257.75 86.74 258.26C86.78 258.78 86.80 259.31 86.82 259.84C86.83 260.38 86.82 260.91 86.81 261.45C86.79 261.99 86.77 262.54 86.73 263.08C86.70 263.63 86.66 264.17 86.61 264.72C86.56 265.26 86.50 265.81 86.45 266.35C86.39 266.89 86.33 267.43 86.26 267.96C86.20 268.50 86.14 269.03 86.07 269.55C86.00 270.08 85.93 270.60 85.85 271.12C85.77 271.63 85.69 272.14 85.60 272.65C85.51 273.16 85.42 273.66 85.31 274.16C85.20 274.65 85.09 275.15 84.97 275.64C84.85 276.12 84.71 276.60 84.57 277.08C84.42 277.56 84.27 278.03 84.10 278.50C83.92 278.96 83.74 279.43 83.54 279.88C83.34 280.34 83.13 280.79 82.90 281.23C82.67 281.68 82.43 282.12 82.17 282.55C81.91 282.99 81.64 283.42 81.36 283.84C81.07 284.27 80.78 284.69 80.48 285.11C80.18 285.52 79.87 285.94 79.55 286.35C79.23 286.76 78.91 287.16 78.58 287.57C78.26 287.97 77.93 288.37 77.59 288.77C77.26 289.16 76.92 289.56 76.58 289.95C76.24 290.34 75.89 290.73 75.55 291.12C75.20 291.51 74.85 291.90 74.50 292.28C74.15 292.66 73.79 293.05 73.44 293.43C73.08 293.81 72.72 294.19 72.36 294.57C72.00 294.94 71.64 295.32 71.28 295.70C70.92 296.07 70.56 296.45 70.19 296.82C69.83 297.19 69.47 297.57 69.10 297.94C68.74 298.31 68.37 298.69 68.01 299.06C67.65 299.43 67.28 299.80 66.92 300.18C66.56 300.55 66.20 300.92 65.84 301.29C65.48 301.67 65.12 302.04 64.76 302.41C64.40 302.79 64.04 303.16 63.69 303.54C63.34 303.92 62.99 304.29 62.64 304.67C62.29 305.05 61.94 305.43 61.60 305.81C61.25 306.19 60.91 306.58 60.58 306.96C60.24 307.35 59.91 307.74 59.58 308.13C59.25 308.51 58.93 308.91 58.60 309.30"/>
<path d="M67.15 256.20C67.64 256.44 68.15 256.65 68.63 256.91C69.11 257.16 69.57 257.44 70.01 257.74C70.45 258.03 70.87 258.35 71.28 258.69C71.69 259.02 72.07 259.37 72.44 259.74C72.81 260.10 73.16 260.48 73.50 260.88C73.83 261.28 74.15 261.69 74.44 262.11C74.74 262.53 75.02 262.96 75.28 263.41C75.54 263.85 75.78 264.31 76.01 264.77C76.23 265.24 76.44 265.71 76.62 266.19C76.81 266.67 76.98 267.16 77.13 267.65C77.28 268.14 77.41 268.64 77.52 269.14C77.63 269.64 77.73 270.15 77.80 270.65C77.88 271.16 77.93 271.67 77.97 272.18C78.01 272.69 78.03 273.20 78.03 273.71C78.03 274.21 78.01 274.72 77.97 275.22C77.93 275.73 77.87 276.23 77.79 276.72C77.72 277.22 77.62 277.71 77.51 278.20C77.39 278.68 77.26 279.16 77.11 279.64C76.96 280.12 76.80 280.59 76.62 281.06C76.44 281.52 76.24 281.99 76.03 282.45C75.82 282.91 75.59 283.36 75.36 283.81C75.12 284.26 74.87 284.71 74.61 285.15C74.35 285.60 74.07 286.04 73.79 286.47C73.51 286.91 73.21 287.34 72.91 287.77C72.61 288.20 72.30 288.63 71.98 289.05C71.66 289.47 71.34 289.89 71.01 290.31C70.67 290.73 70.34 291.14 69.99 291.55C69.65 291.96 69.30 292.37 68.95 292.77C68.60 293.18 68.24 293.58 67.88 293.99C67.53 294.39 67.17 294.78 66.80 295.18C66.44 295.58 66.08 295.97 65.72 296.37C65.36 296.76 65.00 297.15 64.63 297.54C64.28 297.93 63.92 298.31 63.56 298.70C63.21 299.08 62.85 299.47 62.50 299.85C62.16 300.23 61.81 300.62 61.47 301.00C61.13 301.38 60.80 301.76 60.47 302.14C60.15 302.51 59.82 302.89 59.51 303.27C59.20 303.65 58.90 304.02 58.60 304.40"/>
<path d="M67.15 272.20C67.58 272.67 68.05 273.12 68.43 273.60C68.80 274.05 69.13 274.53 69.41 275.01C69.68 275.48 69.91 275.96 70.09 276.45C70.27 276.92 70.41 277.40 70.51 277.89C70.61 278.37 70.66 278.85 70.68 279.34C70.70 279.82 70.68 280.30 70.63 280.78C70.58 281.27 70.49 281.75 70.37 282.23C70.26 282.71 70.11 283.19 69.94 283.67C69.76 284.15 69.56 284.62 69.34 285.09C69.11 285.57 68.86 286.04 68.60 286.50C68.33 286.97 68.05 287.44 67.75 287.90C67.45 288.36 67.13 288.82 66.80 289.27C66.48 289.73 66.14 290.18 65.79 290.62C65.44 291.07 65.09 291.52 64.73 291.96C64.37 292.39 64.00 292.83 63.64 293.26C63.28 293.69 62.91 294.11 62.55 294.53C62.19 294.95 61.83 295.37 61.48 295.78C61.13 296.18 60.78 296.59 60.45 296.99C60.12 297.38 59.79 297.77 59.48 298.16C59.18 298.54 58.89 298.92 58.60 299.30"/>
<path d="M64.10 283.50C63.96 284.06 63.84 284.63 63.67 285.18C63.49 285.73 63.28 286.27 63.06 286.80C62.83 287.33 62.58 287.84 62.31 288.35C62.04 288.87 61.75 289.37 61.46 289.86C61.16 290.36 60.84 290.85 60.53 291.33C60.21 291.82 59.89 292.30 59.57 292.78C59.25 293.25 58.92 293.73 58.60 294.20"/>
<path d="M59.50 285.60C59.20 286.77 58.90 287.93 58.60 289.10"/>
<path d="M67.06 71.40L68.50 71.73L69.95 72.05L71.41 72.37L72.87 72.69L74.35 73.01L75.83 73.34L77.31 73.68L78.80 74.04L80.28 74.41L81.76 74.80L83.23 75.22L84.70 75.67L86.16 76.14L87.61 76.65L89.04 77.19L90.46 77.77L91.87 78.38L93.26 79.03L94.62 79.71L95.97 80.42L97.29 81.17L98.59 81.95L99.87 82.77L101.11 83.62L102.33 84.50L103.51 85.42L104.66 86.38L105.78 87.36L106.87 88.38L107.92 89.43L108.94 90.51L109.93 91.62L110.89 92.75L111.82 93.92L112.72 95.11L113.59 96.32L114.44 97.55L115.26 98.81L116.06 100.09L116.83 101.39L117.58 102.70L118.30 104.03L119.01 105.38L119.69 106.74L120.36 108.12L121.00 109.51L121.62 110.91L122.23 112.32L122.82 113.73L123.40 115.16L123.96 116.59L124.50 118.03L125.03 119.47L125.55 120.91L126.05 122.36L126.55 123.81L127.03 125.26L127.50 126.71L127.95 128.16L128.40 129.62L128.83 131.08L129.25 132.54L129.67 134.00L130.07 135.46L130.46 136.93L130.83 138.40L131.20 139.87L131.56 141.34L131.91 142.81L132.25 144.29L132.58 145.76L132.89 147.24L133.20 148.72L133.50 150.20L133.79 151.69L134.07 153.17L134.35 154.66L134.61 156.14L134.87 157.63L135.11 159.12L135.35 160.61L135.58 162.11L135.81 163.60L136.02 165.09L136.23 166.59L136.43 168.09L136.62 169.59L136.81 171.09L136.99 172.59L137.16 174.09L137.33 175.59L137.49 177.10L137.64 178.60L137.79 180.11L137.93 181.61L138.07 183.12L138.20 184.63L138.33 186.14L138.45 187.65L138.56 189.16L138.67 190.67L138.78 192.18L138.88 193.69L138.98 195.20L139.07 196.72L139.16 198.23L139.24 199.74L139.32 201.26L139.40 202.77L139.47 204.29L139.55 205.80L139.61 207.32L139.68 208.83L139.74 210.35L139.80 211.87L139.86 213.38L139.91 214.90L139.97 216.42L140.02 217.93L140.07 219.45L140.12 220.97L140.16 222.48L140.21 224.00L140.55 227.00L140.19 228.69L139.91 230.39L139.75 232.00L139.57 233.92L139.20 235.80L138.71 237.30L138.16 238.83L137.63 240.30L136.81 242.18L135.90 244.00L135.15 245.33L134.37 246.66L133.55 248.00L132.69 249.30L131.80 250.60L130.80 252.10L130.06 253.24L129.26 254.52L128.41 255.88L127.53 257.31L126.64 258.74L125.76 260.15L124.89 261.50L123.98 262.96L123.09 264.41L122.20 265.85L121.31 267.26L120.44 268.65L119.60 270.00L118.64 271.39L117.71 272.74L116.80 274.06L115.87 275.37L114.90 276.70L114.01 277.88L113.11 279.07L112.19 280.26L111.25 281.45L110.29 282.63L109.30 283.80L108.25 285.00L107.16 286.20L106.05 287.39L104.93 288.57L103.81 289.74L102.70 290.90L101.68 291.96L100.74 292.93L99.79 293.89L98.77 294.92L97.60 296.09L96.20 297.50L95.54 298.16L94.84 298.87L94.09 299.62L93.30 300.42L92.46 301.26L91.58 302.14L90.67 303.05L89.72 304.00L88.74 304.99L87.72 306.00L86.68 307.05L85.61 308.12L84.51 309.21L83.40 310.33L82.26 311.46L81.10 312.62L79.93 313.79L78.75 314.97L77.55 316.17L76.35 317.37L75.13 318.58L73.91 319.80L72.69 321.02L71.47 322.24L70.25 323.46L69.03 324.68L67.82 325.89L66.62 327.09L65.42 328.28L64.24 329.46L63.08 330.63L61.93 331.77L60.80 332.90L59.69 334.01L58.60 335.10"/>
<path d="M58.60 335.10C71.13 322.57 88.85 304.91 96.20 297.50C99.27 294.41 100.54 293.16 102.70 290.90C104.91 288.59 107.24 286.21 109.30 283.80C111.29 281.47 113.15 279.06 114.90 276.70C116.57 274.46 117.95 272.37 119.60 270.00C121.46 267.34 123.54 264.42 125.50 261.50C127.54 258.46 129.92 254.58 131.60 252.10C132.72 250.44 133.59 249.37 134.50 248.00C135.38 246.67 136.22 245.32 137.00 244.00C137.74 242.75 138.47 241.62 139.10 240.30C139.78 238.89 140.51 237.26 140.90 235.80C141.25 234.50 141.35 233.36 141.45 232.00C141.57 230.45 141.48 228.67 141.50 227.00" stroke-width="1.15"/>
</g>
<path d="M58.60 285.80C60.30 285.00 62.01 284.13 63.70 283.40C65.31 282.70 66.99 282.21 68.50 281.50C69.92 280.83 71.08 280.14 72.50 279.30C74.18 278.31 76.26 277.06 77.90 275.90C79.37 274.86 80.79 273.84 81.90 272.70C82.88 271.69 83.80 270.65 84.30 269.50C84.77 268.41 84.77 267.24 84.90 266.00C85.05 264.60 84.96 262.84 85.10 261.50C85.22 260.40 85.29 259.40 85.60 258.50C85.88 257.68 86.23 256.96 86.80 256.30C87.47 255.54 88.51 254.94 89.50 254.30C90.59 253.60 91.77 253.00 93.10 252.30C94.71 251.45 96.70 250.50 98.50 249.60C100.30 248.70 102.08 247.74 103.90 246.90C105.71 246.07 107.64 245.36 109.40 244.60C111.03 243.89 112.48 243.21 114.10 242.50C115.83 241.74 117.76 240.94 119.50 240.20C121.12 239.51 122.57 238.86 124.20 238.20C125.93 237.49 127.95 237.06 129.60 236.10C131.25 235.13 132.70 233.53 134.10 232.40C135.31 231.42 136.38 230.65 137.50 229.70C138.65 228.72 140.27 227.54 140.90 226.60C141.29 226.03 141.30 225.53 141.50 225.00" fill="none" stroke="#00ff00" stroke-width="0.62" stroke-dasharray="3.5 1.5"/>
<path d="M58.60 335.10C71.13 322.57 88.85 304.91 96.20 297.50C99.27 294.41 100.54 293.16 102.70 290.90C104.91 288.59 107.24 286.21 109.30 283.80C111.29 281.47 113.15 279.06 114.90 276.70C116.57 274.46 117.95 272.37 119.60 270.00C121.46 267.34 123.54 264.42 125.50 261.50C127.54 258.46 129.92 254.58 131.60 252.10C132.72 250.44 133.59 249.37 134.50 248.00C135.38 246.67 136.22 245.32 137.00 244.00C137.74 242.75 138.47 241.62 139.10 240.30C139.78 238.89 140.51 237.26 140.90 235.80C141.25 234.50 141.35 233.36 141.45 232.00C141.57 230.45 141.48 228.67 141.50 227.00" fill="none" stroke="#0000ff" stroke-width="0.8" stroke-dasharray="2.1 2.0"/>
<path d="M141.50 224.50V223.00M141.50 219.50V218.80M141.50 208.50V208.00M141.50 204.40V203.00M141.50 199.50V198.30M141.50 194.50V194.20M141.50 183.90V183.00M141.50 179.50V178.00M141.50 174.50V173.70M141.50 166.70V165.50M141.50 163.40V161.40M141.50 159.30V157.30M141.50 155.20V153.20M141.50 151.10V149.10M141.50 147.00V145.00M141.50 142.90V140.90M141.50 138.80V136.80M141.50 134.70V132.70M141.50 130.60V128.60M141.50 126.50V124.50M141.50 122.40V120.40M141.50 118.30V116.30M141.50 114.20V112.20M141.50 110.10V108.10M141.50 106.00V104.00M141.50 101.90V99.90M141.50 97.80V95.80M141.50 93.70V91.70M141.50 89.60V87.60M141.50 85.50V83.50M141.50 81.40V79.40M141.50 77.30V75.30M141.50 73.20V71.20M141.50 69.10V67.10M141.50 65.00V63.00M141.50 60.90V58.90M141.50 56.80V56.00" fill="none" stroke="#ff0000" stroke-width="0.62"/>
<path d="M141.50 224.90V224.50M141.50 223.00V222.90M141.50 220.80V219.50M141.50 216.70V214.70M141.50 212.60V210.60M141.50 208.00V206.50M141.50 203.00V202.40M141.50 200.30V199.50M141.50 196.20V194.50M141.50 192.10V190.10M141.50 188.00V186.00M141.50 183.00V181.90M141.50 179.80V179.50M141.50 178.00V177.80M141.50 175.70V174.50M141.50 171.60V169.60M141.50 167.50V166.70" fill="none" stroke="#00ff00" stroke-width="0.62"/>
<path d="M141.50 227.00V224.90M141.50 222.90V220.80M141.50 218.80V216.70M141.50 214.70V212.60M141.50 210.60V208.50M141.50 206.50V204.40M141.50 202.40V200.30M141.50 198.30V196.20M141.50 194.20V192.10M141.50 190.10V188.00M141.50 186.00V183.90M141.50 181.90V179.80M141.50 177.80V175.70M141.50 173.70V171.60M141.50 169.60V167.50M141.50 165.50V163.40M141.50 161.40V159.30M141.50 157.30V155.20M141.50 153.20V151.10M141.50 149.10V147.00M141.50 145.00V142.90M141.50 140.90V138.80M141.50 136.80V134.70M141.50 132.70V130.60M141.50 128.60V126.50M141.50 124.50V122.40M141.50 120.40V118.30M141.50 116.30V114.20M141.50 112.20V110.10M141.50 108.10V106.00M141.50 104.00V101.90M141.50 99.90V97.80M141.50 95.80V93.70M141.50 91.70V89.60M141.50 87.60V85.50M141.50 83.50V81.40M141.50 79.40V77.30M141.50 75.30V73.20M141.50 71.20V69.10M141.50 67.10V65.00M141.50 63.00V60.90M141.50 58.90V56.80" fill="none" stroke="#0000ff" stroke-width="0.62"/>
<path d="M378.5 24.45H412" stroke="#ff0000" stroke-width="0.7"/>
<path d="M378.5 36.45H412" stroke="#00ff00" stroke-width="0.65" stroke-dasharray="3.5 1.45"/>
<path d="M378.5 47.5H410" stroke="#0000ff" stroke-width="0.65" stroke-dasharray="2.1 2.0"/>
<path d="M58.60 380.85V13.50H426.00M104.46 380.35v-5.00M104.46 13.50v5.00M150.32 380.35v-5.00M150.32 13.50v5.00M196.18 380.35v-5.00M196.18 13.50v5.00M242.04 380.35v-5.00M242.04 13.50v5.00M287.90 380.35v-5.00M287.90 13.50v5.00M333.76 380.35v-5.00M333.76 13.50v5.00M379.62 380.35v-5.00M379.62 13.50v5.00M58.60 315.51h5.00M425.50 315.51h-5.00M58.60 250.67h5.00M425.50 250.67h-5.00M58.60 185.83h5.00M425.50 185.83h-5.00M58.60 120.99h5.00M425.50 120.99h-5.00M58.60 56.15h5.00M425.50 56.15h-5.00" fill="none" stroke="#000" stroke-width="0.75"/>
<path d="M58.20 380.45H425.50V13.10" fill="none" stroke="#000" stroke-width="1"/>
</svg>
<div class="t xl" style="left:40.20px;top:386.50px">0</div>
<div class="t xl" style="left:86.06px;top:386.50px">0.1</div>
<div class="t xl" style="left:131.92px;top:386.50px">0.2</div>
<div class="t xl" style="left:177.78px;top:386.50px">0.3</div>
<div class="t xl" style="left:223.64px;top:386.50px">0.4</div>
<div class="t xl" style="left:269.50px;top:386.50px">0.5</div>
<div class="t xl" style="left:315.36px;top:386.50px">0.6</div>
<div class="t xl" style="left:361.22px;top:386.50px">0.7</div>
<div class="t xl" style="left:407.08px;top:386.50px">0.8</div>
<div class="t yl" style="left:11.80px;top:374.55px">0</div>
<div class="t yl" style="left:11.80px;top:309.71px">0.2</div>
<div class="t yl" style="left:11.80px;top:244.87px">0.4</div>
<div class="t yl" style="left:11.80px;top:180.03px">0.6</div>
<div class="t yl" style="left:11.80px;top:115.19px">0.8</div>
<div class="t yl" style="left:11.80px;top:50.35px">1</div>
<div class="t xl" style="left:221.80px;top:402.80px">r</div>
<div class="t" style="left:5.90px;top:190.70px;width:12px;text-align:center;transform:rotate(-90deg);transform-origin:50% 50%">v</div>
<div class="t lg" style="left:251.50px;top:19.00px;color:#ff0000">outgoing null rays</div>
<div class="t lg" style="left:251.50px;top:30.30px;color:#00ff00">apparent horizon</div>
<div class="t lg" style="left:251.50px;top:41.60px;color:#0000ff">event horizon</div>
</div></body></html>
